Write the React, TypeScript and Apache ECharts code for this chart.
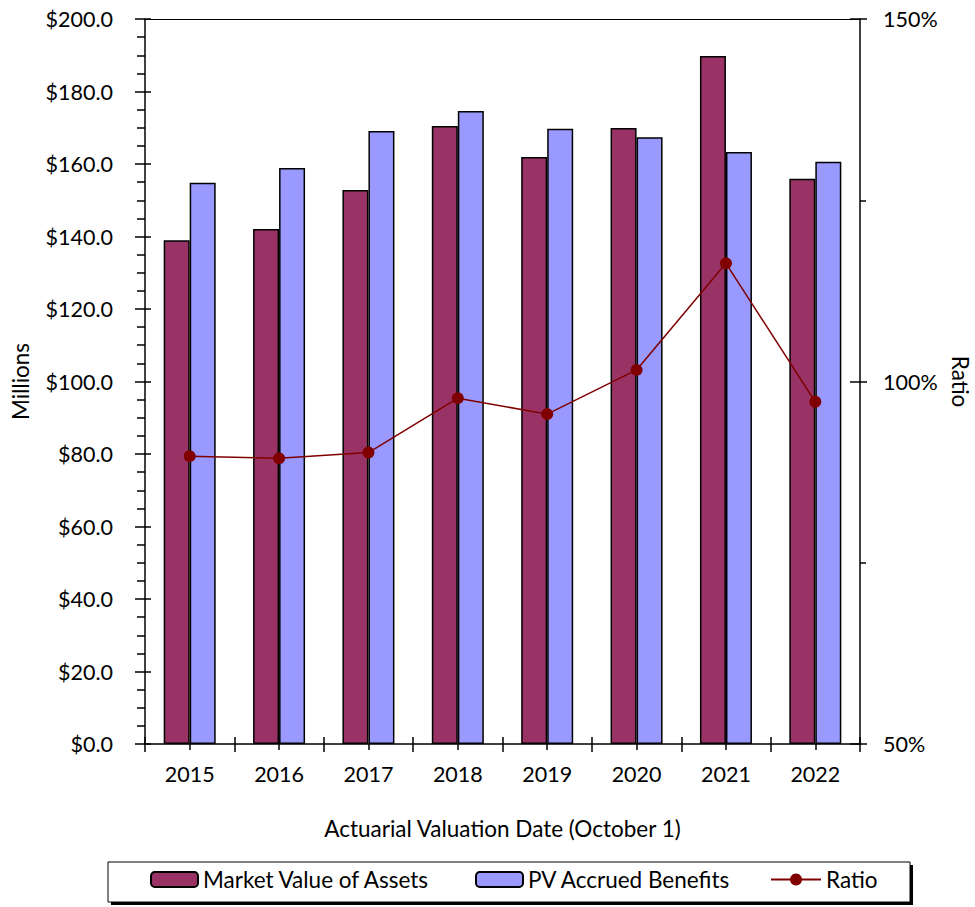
import React, { useEffect, useRef } from 'react';
import * as echarts from 'echarts';

const years = ['2015', '2016', '2017', '2018', '2019', '2020', '2021', '2022'];
const marketValue = [139.0, 142.1, 152.8, 170.5, 161.9, 169.9, 189.8, 155.9];
const pvAccrued = [154.8, 158.9, 169.1, 174.6, 169.7, 167.4, 163.3, 160.6];
const ratio = [89.7, 89.4, 90.2, 97.7, 95.5, 101.6, 116.3, 97.2];

const FONT = 'Lato, "Noto Sans", sans-serif';
const BLACK = '#000000';
const TICK_FS = 21.5;
const TITLE_FS = 22.5;

export default function App() {
  const ref = useRef<HTMLDivElement>(null);
  useEffect(() => {
    if (!ref.current) return;
    const chart = echarts.init(ref.current, undefined, { renderer: 'svg' });
    const axisLine = { show: true, onZero: false, lineStyle: { color: BLACK, width: 1.5 } };
    const hiddenLabel = { show: false };
    const option: any = {
      animation: false,
      textStyle: { fontFamily: FONT, color: BLACK },
      grid: { left: 145, right: 115, top: 19, bottom: 163, containLabel: false, outerBoundsMode: 'none' },
      xAxis: [
        {
          type: 'category', data: years, position: 'bottom',
          axisLine,
          axisTick: { show: true, inside: false, length: 8, lineStyle: { color: BLACK, width: 1.5 } },
          axisLabel: { show: true, fontSize: TICK_FS, color: BLACK, fontFamily: FONT, margin: 19 },
          name: 'Actuarial Valuation Date (October 1)', nameLocation: 'middle', nameGap: 73,
          nameTextStyle: { fontSize: TITLE_FS, color: BLACK, fontFamily: FONT },
        },
        {
          type: 'category', data: years, position: 'bottom',
          axisLine: { show: false, onZero: false },
          axisTick: { show: true, inside: true, length: 7, lineStyle: { color: BLACK, width: 1.5 } },
          axisLabel: hiddenLabel,
        },
        {
          type: 'category', data: years, position: 'bottom',
          axisLine: { show: false, onZero: false },
          axisTick: { show: true, inside: false, alignWithLabel: true, length: 6, lineStyle: { color: BLACK, width: 1.5 } },
          axisLabel: hiddenLabel,
        },
        {
          type: 'category', data: years, position: 'top',
          axisLine: { show: true, onZero: false, lineStyle: { color: BLACK, width: 1.2 } },
          axisTick: { show: false },
          axisLabel: hiddenLabel,
        },
      ],
      yAxis: [
        {
          type: 'value', position: 'left', min: 0, max: 200, interval: 20,
          axisLine,
          axisTick: { show: true, inside: false, length: 10, lineStyle: { color: BLACK, width: 1.5 } },
          minorTick: { show: true, splitNumber: 4, length: 8, lineStyle: { color: BLACK, width: 1.5 } },
          splitLine: { show: false },
          axisLabel: { fontSize: TICK_FS, color: BLACK, fontFamily: FONT, margin: 32, formatter: (v: number) => '$' + v.toFixed(1) },
          name: 'Millions', nameLocation: 'middle', nameGap: 113, nameRotate: 90,
          nameTextStyle: { fontSize: TITLE_FS, color: BLACK, fontFamily: FONT },
        },
        {
          type: 'value', position: 'left', min: 0, max: 200, interval: 20,
          axisLine: { show: false },
          axisTick: { show: true, inside: true, length: 6, lineStyle: { color: BLACK, width: 1.5 } },
          splitLine: { show: false },
          axisLabel: hiddenLabel,
        },
        {
          type: 'value', position: 'right', min: 50, max: 150, interval: 50,
          axisLine,
          axisTick: { show: true, inside: false, length: 7, lineStyle: { color: BLACK, width: 1.5 } },
          minorTick: { show: true, splitNumber: 2, length: 6, lineStyle: { color: BLACK, width: 1.5 } },
          splitLine: { show: false },
          axisLabel: { fontSize: TICK_FS, color: BLACK, fontFamily: FONT, margin: 23, formatter: (v: number) => v + '%' },
          name: 'Ratio', nameLocation: 'middle', nameGap: 89, nameRotate: -90,
          nameTextStyle: { fontSize: TITLE_FS, color: BLACK, fontFamily: FONT },
        },
        {
          type: 'value', position: 'right', min: 50, max: 150, interval: 50,
          axisLine: { show: false },
          axisTick: { show: true, inside: true, length: 10, lineStyle: { color: BLACK, width: 1.5 } },
          splitLine: { show: false },
          axisLabel: hiddenLabel,
        },
      ],
      legend: [
        {
          data: ['Market Value of Assets'], left: 150, top: 868, padding: 0,
          itemWidth: 47, itemHeight: 15, itemGap: 0,
          textStyle: { fontSize: TITLE_FS, color: BLACK, fontFamily: FONT },
        },
        {
          data: ['PV Accrued Benefits'], left: 475, top: 868, padding: 0,
          itemWidth: 47, itemHeight: 15, itemGap: 0,
          textStyle: { fontSize: TITLE_FS, color: BLACK, fontFamily: FONT },
        },
        {
          data: ['Ratio'], left: 770, top: 868, padding: 0,
          itemWidth: 50, itemHeight: 15, itemGap: 0,
          textStyle: { fontSize: TITLE_FS, color: BLACK, fontFamily: FONT },
        },
      ],
      graphic: [
        { type: 'rect', z: 0, shape: { x: 111, y: 865, width: 802, height: 40 }, style: { fill: BLACK } },
        { type: 'rect', z: 1, shape: { x: 108, y: 862, width: 802, height: 40 }, style: { fill: '#ffffff', stroke: BLACK, lineWidth: 1 } },
      ],
      series: [
        {
          name: 'Market Value of Assets', type: 'bar', data: marketValue,
          xAxisIndex: 0, yAxisIndex: 0, barWidth: 26, barGap: '0%',
          itemStyle: { color: '#993366', borderColor: BLACK, borderWidth: 1.5 },
        },
        {
          name: 'PV Accrued Benefits', type: 'bar', data: pvAccrued,
          xAxisIndex: 0, yAxisIndex: 0, barWidth: 26, barGap: '0%',
          itemStyle: { color: '#9999FF', borderColor: BLACK, borderWidth: 1.5 },
        },
        {
          name: 'Ratio', type: 'line', data: ratio,
          xAxisIndex: 0, yAxisIndex: 2, symbol: 'circle', symbolSize: 12,
          lineStyle: { color: '#800000', width: 1.5 },
          itemStyle: { color: '#800000' },
          z: 5,
        },
      ],
    };
    chart.setOption(option);
    return () => chart.dispose();
  }, []);
  return <div ref={ref} style={{ position: 'absolute', left: 0, top: 0, width: 975, height: 907 }} />;
}
